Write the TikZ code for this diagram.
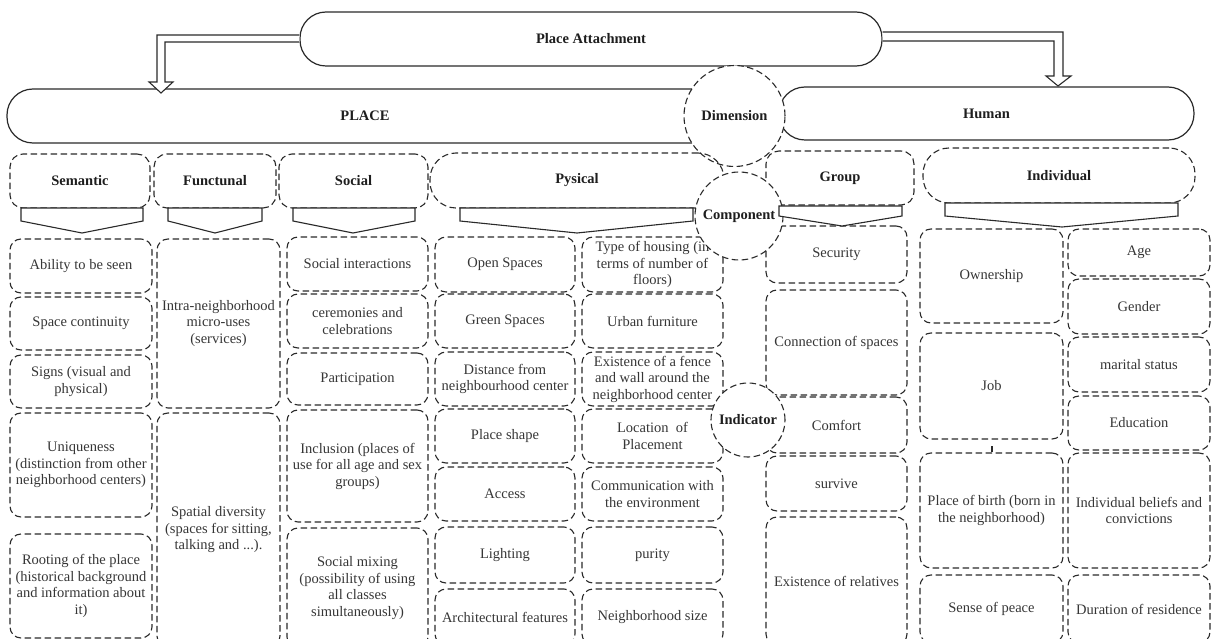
\documentclass[tikz,border=0pt]{standalone}
\usepackage{fontspec}
\setmainfont{Liberation Serif}
\usetikzlibrary{calc}
\definecolor{linec}{HTML}{2A2A2A}
\definecolor{textc}{HTML}{363636}
\definecolor{boldc}{HTML}{1E1E1E}
\newcommand{\cellfont}{\fontsize{14.5pt}{16.5pt}\selectfont}
\newcommand{\headfont}{\fontsize{14.5pt}{16.5pt}\selectfont\bfseries}
\newcommand{\cellnode}[7]{%
  \pgfmathsetmacro{\cnw}{#5-#3}%
  \pgfmathsetmacro{\cnh}{#6-#4}%
  \pgfmathsetmacro{\cnx}{(#5+#3)/2}%
  \pgfmathsetmacro{\cny}{(#6+#4)/2}%
  \node[#2, minimum width=\cnw pt, minimum height=\cnh pt] (#1) at (\cnx,\cny) {#7};}
\begin{document}
\begin{tikzpicture}[x=1pt,y=-1pt,
  dsh/.style={dash pattern=on 6.5pt off 3.5pt},
  cell/.style={draw=linec, line width=1.1pt, dsh, rounded corners=11pt, inner sep=0pt, align=center, font=\cellfont, text=textc},
  head/.style={cell, font=\headfont, text=boldc, rounded corners=13pt},
  headround/.style={head, rounded corners=26pt},
  big/.style={draw=linec, line width=1.2pt, rounded corners=26pt, inner sep=0pt, font=\headfont, text=boldc, fill=white},
  ring/.style={circle, draw=linec, line width=1.1pt, dsh, fill=white, inner sep=0pt, font=\headfont, text=boldc},
  chev/.style={draw=linec, line width=1.1pt, fill=white, line join=miter},
  blockarrow/.style={draw=linec, line width=1.1pt, fill=white}
]
\useasboundingbox (0,0) rectangle (1216,639);
\clip (0,0) rectangle (1216,639);

% top level
\cellnode{pa}{big}{300}{12}{882}{66}{Place Attachment}
\cellnode{place}{big}{7}{89}{723}{143}{PLACE}
\cellnode{human}{big}{779}{87}{1194}{140}{Human}

% block arrows
\draw[blockarrow] ($(pa.west)+(0,-4)$) -- (157,35) -- (157,82) -- (149,82) -- (161,93) -- (173,82) -- (165,82) -- (165,42) -- ($(pa.west)+(0,3)$);
\draw[blockarrow] ($(pa.east)+(0,-7)$) -- (1063,32) -- (1063,76) -- (1071,76) -- (1058,86) -- (1046,76) -- (1054,76) -- (1054,41) -- ($(pa.east)+(0,2)$);

\node[ring, minimum size=101pt] (dim) at (734.5,116) {Dimension};

% headers
\cellnode{hsem}{head}{10}{154}{150}{208}{Semantic}
\cellnode{hfun}{head}{154}{154}{276}{208}{Functunal}
\cellnode{hsoc}{head}{279}{154}{428}{208}{Social}
\cellnode{hpys}{headround}{430}{153}{724}{208}{Pysical}
\cellnode{hgrp}{head}{766}{151}{914}{205}{Group}
\cellnode{hind}{headround}{923}{148}{1195}{203}{Individual}

% Semantic
\cellnode{sem1}{cell}{10}{239}{152}{293}{Ability to be seen}
\cellnode{sem2}{cell}{10}{297}{152}{350}{Space continuity}
\cellnode{sem3}{cell}{10}{355}{152}{408}{Signs (visual and\\physical)}
\cellnode{sem4}{cell}{10}{413}{152}{517}{Uniqueness\\(distinction from other\\neighborhood centers)}
\cellnode{sem5}{cell}{10}{534}{152}{638}{Rooting of the place\\(historical background\\and information about\\it)}

% Functunal
\cellnode{fun1}{cell}{157}{239}{280}{408}{Intra-neighborhood\\micro-uses\\(services)}
\cellnode{fun2}{cell}{157}{413}{280}{647}{Spatial diversity\\(spaces for sitting,\\talking and ...).}

% Social
\cellnode{soc1}{cell}{287}{237}{428}{291}{Social interactions}
\cellnode{soc2}{cell}{287}{294}{428}{348}{ceremonies and\\celebrations}
\cellnode{soc3}{cell}{287}{353}{428}{405}{Participation}
\cellnode{soc4}{cell}{287}{410}{428}{522}{Inclusion (places of\\use for all age and sex\\groups)}
\cellnode{soc5}{cell}{287}{528}{428}{648}{Social mixing\\(possibility of using\\all classes\\simultaneously)}

% Pysical A
\cellnode{pa1}{cell}{435}{237}{575}{292}{Open Spaces}
\cellnode{pa2}{cell}{435}{294}{575}{348}{Green Spaces}
\cellnode{pa3}{cell}{435}{352}{575}{406}{Distance from\\neighbourhood center}
\cellnode{pa4}{cell}{435}{409}{575}{463}{Place shape}
\cellnode{pa5}{cell}{435}{467}{575}{521}{Access}
\cellnode{pa6}{cell}{435}{527}{575}{583}{Lighting}
\cellnode{pa7}{cell}{435}{589}{575}{645}{Architectural features}

% Pysical B
\cellnode{pb1}{cell}{582}{237}{723}{292}{Type of housing (in\\terms of number of\\floors)}
\cellnode{pb2}{cell}{582}{294}{723}{348}{Urban furniture}
\cellnode{pb3}{cell}{582}{352}{723}{406}{Existence of a fence\\and wall around the\\neighborhood center}
\cellnode{pb4}{cell}{582}{409}{723}{463}{Location \ of\\Placement}
\cellnode{pb5}{cell}{582}{467}{723}{521}{Communication with\\the environment}
\cellnode{pb6}{cell}{582}{527}{723}{583}{purity}
\cellnode{pb7}{cell}{582}{589}{723}{645}{Neighborhood size}

% Group
\cellnode{gr1}{cell}{766}{226}{907}{283}{Security}
\cellnode{gr2}{cell}{766}{290}{907}{395}{Connection of spaces}
\cellnode{gr3}{cell}{766}{397}{907}{453}{Comfort}
\cellnode{gr4}{cell}{766}{456}{907}{511}{survive}
\cellnode{gr5}{cell}{766}{517}{907}{645}{Existence of relatives}

% Individual A
\cellnode{ia1}{cell}{920}{229}{1063}{323}{Ownership}
\cellnode{ia2}{cell}{920}{333}{1063}{439}{Job}
\cellnode{ia3}{cell}{920}{453}{1063}{568}{Place of birth (born in\\the neighborhood)}
\cellnode{ia4}{cell}{920}{575}{1063}{643}{Sense of peace}

% Individual B
\cellnode{ib1}{cell}{1068}{229}{1210}{276}{Age}
\cellnode{ib2}{cell}{1068}{279}{1210}{334}{Gender}
\cellnode{ib3}{cell}{1068}{337}{1210}{392}{marital status}
\cellnode{ib4}{cell}{1068}{396}{1210}{450}{Education}
\cellnode{ib5}{cell}{1068}{453}{1210}{568}{Individual beliefs and\\convictions}
\cellnode{ib6}{cell}{1068}{575}{1210}{643}{Duration of residence}

\coordinate (jb) at (992,446);
\draw[linec, line width=1.1pt] (jb) -- (jb |- ia3.north);

% circles
\node[ring, minimum size=88pt] (comp) at (739,216) {Component};
\node[ring, minimum size=74pt] (indic) at (748,420) {Indicator};

% chevrons
\draw[chev] (21,208) -- (143,208) -- (143,221) -- (82,233) -- (21,221) -- cycle;
\draw[chev] (168,208) -- (262,208) -- (262,221) -- (215,233) -- (168,221) -- cycle;
\draw[chev] (293,208) -- (415,208) -- (415,221) -- (353,233) -- (293,221) -- cycle;
\draw[chev] (460,208) -- (693,208) -- (693,221) -- (577,233) -- (460,221) -- cycle;
\draw[chev] (779,206) -- (902,206) -- (902,216) -- (842,226) -- (779,216) -- cycle;
\draw[chev] (945,203) -- (1178,203) -- (1178,216) -- (1062,227) -- (945,216) -- cycle;
\end{tikzpicture}
\end{document}
